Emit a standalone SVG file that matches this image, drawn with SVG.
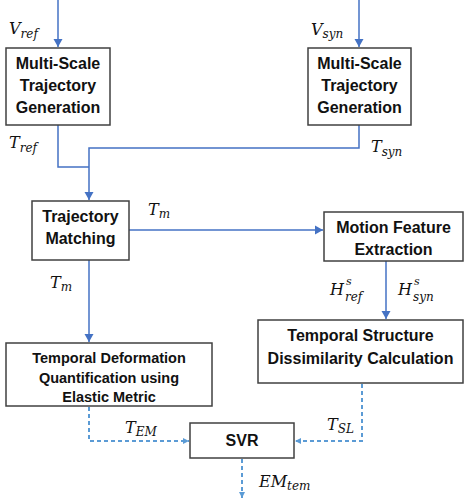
<svg xmlns="http://www.w3.org/2000/svg" width="464" height="502" viewBox="0 0 464 502">
<style>
.box{fill:#fff;stroke:#404040;stroke-width:1.5}
.t{font-family:"Liberation Sans",Arial,sans-serif;font-weight:bold;font-size:16px;fill:#111;text-anchor:middle}
.ts{font-size:14.5px}
.m{font-family:"DejaVu Serif","Liberation Serif",serif;font-style:italic;font-size:16px;fill:#111}
.sub{font-size:12px}
.sup{font-size:11px}
.sl{fill:none;stroke:#4472C4;stroke-width:1.5}
.dl{fill:none;stroke:#5B9BD5;stroke-width:2;stroke-dasharray:4,3}
</style>
<defs>
<marker id="a" markerWidth="10" markerHeight="10" refX="8" refY="5" orient="auto" markerUnits="userSpaceOnUse"><path d="M0,0.5 L8,5 L0,9.5 Z" fill="#4472C4"/></marker>
<marker id="d" markerWidth="8" markerHeight="8" refX="6" refY="3.5" orient="auto" markerUnits="userSpaceOnUse"><path d="M0,0.5 L6,3.5 L0,6.5 Z" fill="#5B9BD5"/></marker>
</defs>
<g id="connectors">
<path class="sl" d="M58,0 V47" marker-end="url(#a)"/>
<path class="sl" d="M359,0 V47" marker-end="url(#a)"/>
<path class="sl" d="M58,125 V167 H89"/>
<path class="sl" d="M359,125 V148 H89 V200" marker-end="url(#a)"/>
<path class="sl" d="M129,230 H323" marker-end="url(#a)"/>
<path class="sl" d="M89,260 V342" marker-end="url(#a)"/>
<path class="sl" d="M386,261 V319" marker-end="url(#a)"/>
<path class="dl" d="M89,407 V441 H189" marker-end="url(#d)"/>
<path class="dl" d="M362,384 V441 H295" marker-end="url(#d)"/>
<path class="dl" d="M242,459 V498" marker-end="url(#d)"/>
</g>
<g id="labels">
<text class="m" x="9" y="34">V<tspan class="sub" dy="4">ref</tspan></text>
<text class="m" x="9" y="148">T<tspan class="sub" dy="4">ref</tspan></text>
<text class="m" x="311" y="35">V<tspan class="sub" dy="3">syn</tspan></text>
<text class="m" x="371" y="152">T<tspan class="sub" dy="4">syn</tspan></text>
<text class="m" x="148" y="215">T<tspan class="sub" dy="3">m</tspan></text>
<text class="m" x="50" y="288">T<tspan class="sub" dy="3">m</tspan></text>
<text class="m" x="330" y="295">H</text>
<text class="m sup" x="346" y="285">s</text>
<text class="m sub" x="345" y="301">ref</text>
<text class="m" x="398" y="295">H</text>
<text class="m sup" x="414" y="285">s</text>
<text class="m sub" x="413" y="301">syn</text>
<text class="m" x="125" y="433">T<tspan class="sub" dy="3">EM</tspan></text>
<text class="m" x="327" y="430">T<tspan class="sub" dy="3">SL</tspan></text>
<text class="m" x="259" y="487">EM<tspan class="sub" dy="3">tem</tspan></text>
</g>
<g id="mstg-ref">
<rect class="box" x="6" y="48" width="104" height="77"/>
<text class="t" x="58" y="69">Multi-Scale</text>
<text class="t" x="58" y="91">Trajectory</text>
<text class="t" x="58" y="113">Generation</text>
</g>
<g id="mstg-syn">
<rect class="box" x="308" y="48" width="103" height="77"/>
<text class="t" x="359.5" y="69">Multi-Scale</text>
<text class="t" x="359.5" y="91">Trajectory</text>
<text class="t" x="359.5" y="113">Generation</text>
</g>
<g id="matching">
<rect class="box" x="32" y="201" width="97" height="59"/>
<text class="t" x="80.5" y="222">Trajectory</text>
<text class="t" x="80.5" y="244">Matching</text>
</g>
<g id="motion">
<rect class="box" x="324" y="212" width="139" height="49"/>
<text class="t" x="393.5" y="233">Motion Feature</text>
<text class="t" x="393.5" y="255">Extraction</text>
</g>
<g id="structure">
<rect class="box" x="258" y="320" width="205" height="63"/>
<text class="t" x="360.5" y="341">Temporal Structure</text>
<text class="t" x="360.5" y="364">Dissimilarity Calculation</text>
</g>
<g id="deformation">
<rect class="box" x="6" y="343" width="206" height="63"/>
<text class="t ts" x="109" y="363">Temporal Deformation</text>
<text class="t ts" x="109" y="383">Quantification using</text>
<text class="t ts" x="109" y="402">Elastic Metric</text>
</g>
<g id="svr">
<rect class="box" x="190" y="423" width="104" height="35"/>
<text class="t" x="242" y="446">SVR</text>
</g>
</svg>
